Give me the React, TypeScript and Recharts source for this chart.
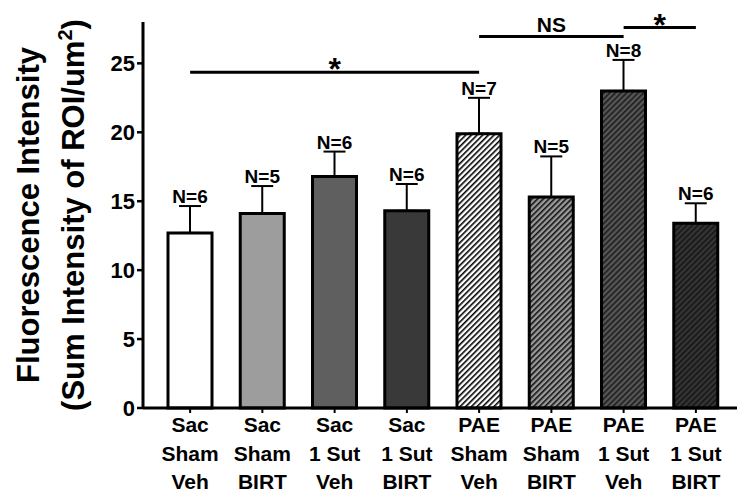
import { BarChart, Bar, XAxis, YAxis, ErrorBar, LabelList, ReferenceLine, Cell } from 'recharts';

const groups = [
  'Sac\nSham\nVeh',
  'Sac\nSham\nBIRT',
  'Sac\n1 Sut\nVeh',
  'Sac\n1 Sut\nBIRT',
  'PAE\nSham\nVeh',
  'PAE\nSham\nBIRT',
  'PAE\n1 Sut\nVeh',
  'PAE\n1 Sut\nBIRT',
];
const means = [12.7, 14.1, 16.8, 14.3, 19.9, 15.3, 23.0, 13.4];
const sems = [1.95, 2.0, 1.8, 1.95, 2.6, 2.95, 2.25, 1.45];
const counts = [6, 5, 6, 6, 7, 5, 8, 6];
const yTicks = [0, 5, 10, 15, 20, 25];

// significance brackets: from group index, to group index, height, text
const sigFrom = [0, 4, 6];
const sigTo = [4, 6, 7];
const sigLevel = [24.35, 26.95, 27.6];
const sigText = ['*', 'NS', '*'];

const solidFills = ['#ffffff', '#9d9d9d', '#5f5f5f', '#393939'];
const hatchBg = ['#ffffff', '#9a9a9a', '#575757', '#353535'];
const hatchLine = ['#000000', '#111111', '#1c1c1c', '#151515'];

const font = '"Liberation Sans", Arial, Helvetica, sans-serif';

const data = groups.map((group, i) => ({
  group,
  mean: means[i],
  err: [0, sems[i]],
  n: counts[i],
}));

const fills = [...solidFills, ...hatchBg.map((_, i) => `url(#hatch${i})`)];

function GroupTick({ x, y, payload }: any) {
  const lines = String(payload.value).split('\n');
  return (
    <text x={x} y={y} textAnchor="middle" fontSize={21} fontWeight="bold" fill="#000" fontFamily={font}>
      {lines.map((l, i) => (
        <tspan key={i} x={x} y={y + 17 + i * 28.5}>
          {l}
        </tspan>
      ))}
    </text>
  );
}

function YTitle({ viewBox }: any) {
  const cy = viewBox.y + viewBox.height / 2;
  const x1 = viewBox.x + 39;
  const x2 = viewBox.x + 84;
  return (
    <g fontFamily={font} fontWeight="bold" fill="#000" fontSize={31}>
      <text x={x1} y={cy} textAnchor="middle" transform={`rotate(-90 ${x1} ${cy})`}>
        Fluorescence Intensity
      </text>
      <text x={x2} y={cy} textAnchor="middle" transform={`rotate(-90 ${x2} ${cy})`}>
        (Sum Intensity of ROI/um
        <tspan dy={-12} fontSize={20}>2</tspan>
        <tspan dy={12}>)</tspan>
      </text>
    </g>
  );
}

function CountLabel({ x, y, width, height, value, index }: any) {
  const perUnit = height / means[index];
  const capY = y - sems[index] * perUnit;
  return (
    <text x={x + width / 2} y={capY - 3} textAnchor="middle" fontSize={19} fontWeight="bold" fill="#000" fontFamily={font}>
      N={value}
    </text>
  );
}

function SigLabel({ viewBox, value }: any) {
  const cx = viewBox.x + viewBox.width / 2;
  const isStar = value === '*';
  return (
    <text
      x={cx}
      y={isStar ? viewBox.y + 8 : viewBox.y - 4}
      textAnchor="middle"
      fontSize={isStar ? 32 : 21}
      fontWeight="bold"
      fill="#000"
      fontFamily={font}
    >
      {value}
    </text>
  );
}

export default function App() {
  return (
    <div style={{ position: 'absolute', left: 0, top: 0, background: '#fff' }}>
      <BarChart width={737} height={492} data={data} margin={{ top: 22, right: 0, bottom: 0, left: 0 }}>
        <defs>
          {hatchBg.map((bg, i) => (
            <pattern
              key={i}
              id={`hatch${i}`}
              patternUnits="userSpaceOnUse"
              width={4}
              height={4}
              patternTransform="rotate(45)"
            >
              <rect width={4} height={4} fill={bg} />
              <line x1={0} y1={0} x2={0} y2={4} stroke={hatchLine[i]} strokeWidth={3.2} />
            </pattern>
          ))}
        </defs>
        <XAxis
          dataKey="group"
          interval={0}
          height={84}
          padding={{ left: 11, right: 5 }}
          tick={<GroupTick />}
          tickSize={5}
          tickMargin={2}
          axisLine={{ stroke: '#000', strokeWidth: 3 }}
          tickLine={{ stroke: '#000', strokeWidth: 2 }}
        />
        <YAxis
          width={143}
          domain={[0, 28]}
          ticks={yTicks}
          tickSize={6}
          tickMargin={2}
          tick={{ fill: '#000', fontSize: 22, fontWeight: 'bold', fontFamily: font }}
          axisLine={{ stroke: '#000', strokeWidth: 3 }}
          tickLine={{ stroke: '#000', strokeWidth: 2.5 }}
          label={<YTitle />}
        />
        <Bar dataKey="mean" barSize={44} stroke="#000" strokeWidth={3} isAnimationActive={false}>
          {data.map((_, i) => (
            <Cell key={i} fill={fills[i]} />
          ))}
          <ErrorBar dataKey="err" width={11} stroke="#000" strokeWidth={2} isAnimationActive={false} />
          <LabelList dataKey="n" content={<CountLabel />} />
        </Bar>
        {sigFrom.map((from, i) => (
          <ReferenceLine
            key={i}
            segment={[
              { x: groups[from], y: sigLevel[i] },
              { x: groups[sigTo[i]], y: sigLevel[i] },
            ]}
            stroke="#000"
            strokeWidth={3}
            label={<SigLabel value={sigText[i]} />}
          />
        ))}
      </BarChart>
    </div>
  );
}
